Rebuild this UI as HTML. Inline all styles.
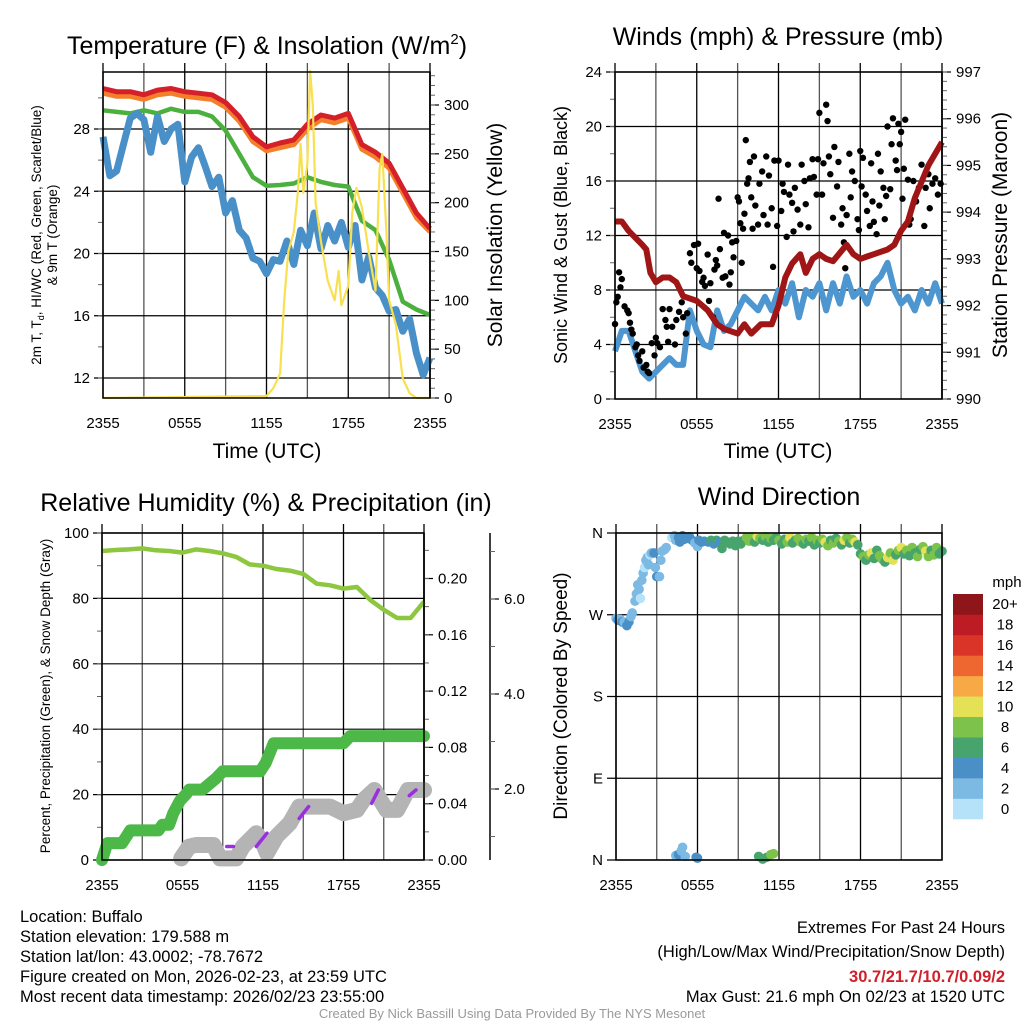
<!DOCTYPE html>
<html><head><meta charset="utf-8"><title>Buffalo Meteogram</title>
<style>
html,body{margin:0;padding:0;background:#fff;}
svg{display:block;font-family:"Liberation Sans",Arial,sans-serif;}
</style></head>
<body>
<svg id="chart" width="1024" height="1024" viewBox="0 0 1024 1024" xmlns="http://www.w3.org/2000/svg">
<rect x="0" y="0" width="1024" height="1024" fill="#fff"/>
<text x="267" y="54" font-size="25" text-anchor="middle">Temperature (F) &amp; Insolation (W/m<tspan font-size="15" dy="-10">2</tspan><tspan dy="10">)</tspan></text>
<text x="778" y="45" font-size="25" text-anchor="middle">Winds (mph) &amp; Pressure (mb)</text>
<text x="266" y="511" font-size="25" text-anchor="middle">Relative Humidity (%) &amp; Precipitation (in)</text>
<text x="779" y="505" font-size="25" text-anchor="middle">Wind Direction</text>

<text transform="translate(41,235) rotate(-90)" font-size="13.5" text-anchor="middle">2m T, T<tspan font-size="9" dy="3">d</tspan><tspan dy="-3">, HI/WC (Red, Green, Scarlet/Blue)</tspan></text>
<text transform="translate(57,235) rotate(-90)" font-size="13.5" text-anchor="middle">&amp; 9m T (Orange)</text>
<text transform="translate(502,235) rotate(-90)" font-size="21" text-anchor="middle">Solar Insolation (Yellow)</text>
<text transform="translate(567,235) rotate(-90)" font-size="18" text-anchor="middle">Sonic Wind &amp; Gust (Blue, Black)</text>
<text transform="translate(1007,235) rotate(-90)" font-size="21" text-anchor="middle">Station Pressure (Maroon)</text>
<text transform="translate(50,696) rotate(-90)" font-size="13.5" text-anchor="middle">Percent, Precipitation (Green), &amp; Snow Depth (Gray)</text>
<text transform="translate(567,696) rotate(-90)" font-size="19" text-anchor="middle">Direction (Colored By Speed)</text>
<text x="267" y="458" font-size="21" text-anchor="middle">Time (UTC)</text>
<text x="778" y="458" font-size="21" text-anchor="middle">Time (UTC)</text>

<g id="layer"></g>

<g font-size="16.5">
<text x="20" y="922">Location: Buffalo</text>
<text x="20" y="942">Station elevation: 179.588 m</text>
<text x="20" y="962">Station lat/lon: 43.0002; -78.7672</text>
<text x="20" y="982">Figure created on Mon, 2026-02-23, at 23:59 UTC</text>
<text x="20" y="1002">Most recent data timestamp: 2026/02/23 23:55:00</text>
</g>
<g font-size="16.5" text-anchor="end">
<text x="1005" y="933">Extremes For Past 24 Hours</text>
<text x="1005" y="957">(High/Low/Max Wind/Precipitation/Snow Depth)</text>
<text x="1005" y="982" fill="#d0202a" font-weight="bold">30.7/21.7/10.7/0.09/2</text>
<text x="1005" y="1002">Max Gust: 21.6 mph On 02/23 at 1520 UTC</text>
</g>
<text x="512" y="1018" font-size="13" fill="#9a9a9a" text-anchor="middle">Created By Nick Bassill Using Data Provided By The NYS Mesonet</text>
</svg>
<script>
// ---------- data ----------
var hourly = [0,1,2,3,4,5,6,7,8,9,10,11,12,13,14,15,16,17,18,19,20,21,22,23,24];
var tempRed = [30.6,30.4,30.4,30.2,30.5,30.6,30.4,30.3,30.2,29.7,28.8,27.5,26.85,27.1,27.3,28.3,28.9,28.7,29.0,27.0,26.5,25.8,24.2,22.6,21.6];
var temp9mOrange = [30.3,30.1,30.1,29.9,30.2,30.3,30.1,30.0,29.9,29.4,28.5,27.2,26.6,26.8,27.0,28.0,28.6,28.4,28.7,26.7,26.2,25.5,23.9,22.3,21.4];
var hiwcGreen = [29.2,29.1,29.0,29.2,29.0,29.3,29.1,29.1,28.8,27.9,26.4,24.9,24.35,24.4,24.5,24.9,24.6,24.4,24.3,22.1,21.5,19.6,16.9,16.4,16.05];
var halfHours = [0,0.5,1,1.5,2,2.5,3,3.5,4,4.5,5,5.5,6,6.5,7,7.5,8,8.5,9,9.5,10,10.5,11,11.5,12,12.5,13,13.5,14,14.5,15,15.5,16,16.5,17,17.5,18,18.5,19,19.5,20,20.5,21,21.5,22,22.5,23,23.5,24];
var dewBlue = [27.5,25.0,25.3,27,28.7,29,28.6,26.5,28.8,27.2,28,28.3,24.6,26.2,26.8,25.6,24.3,24.9,22.6,23.4,21.5,21,19.7,19.5,18.7,19.6,19.5,20.8,19.3,21.5,20.5,22.6,20.3,21.8,20.8,22.0,20.4,21.8,18.3,19.8,17.8,17.3,16.3,16.4,15.0,15.8,13.6,12.2,13.3];
var solarTimes = [0,12,12.5,13,13.3,13.6,14,14.3,14.5,14.7,15,15.2,15.4,15.6,16,16.5,17,17.3,17.5,18,18.3,18.6,19,19.5,20,20.3,20.5,20.8,21,21.5,22,22.5,23,24];
var solarValues = [0,2,10,25,100,150,170,210,260,210,240,335,300,200,160,120,100,130,95,115,190,215,195,150,110,235,250,170,100,75,20,5,0,0];
var windBlue = [3.5,5,5,3.5,2,1.5,2,2.5,3,2.5,2.5,6.5,5,4,3.8,6.5,5,5.5,6.5,7.5,7,6.5,7.5,6.5,8,7,8.5,6,8,7.5,8.5,6.5,8.5,7,9,7.5,8,7,8.5,9,10,8,7,7.5,6.5,8,7,8.5,7];
var pressTimes = [0,0.5,1,2,2.3,2.6,3,3.5,4,4.5,5,6,6.8,7.5,8,9,9.5,10,10.7,11.5,12,12.5,13,13.6,14,14.5,15,15.5,16,17,17.5,18,18.5,19,20,20.5,21,21.5,22,23,24];
var pressValues = [993.8,993.8,993.6,993.3,993.2,992.7,992.5,992.6,992.6,992.5,992.2,992.1,991.9,991.6,991.5,991.4,991.6,991.4,991.6,991.6,992.0,992.6,992.9,993.1,992.7,993.0,993.1,993.0,992.95,993.3,993.1,993.0,993.05,993.1,993.2,993.3,993.6,993.8,994.3,995.0,995.5];
var gustTimes = [0.0,0.1,0.2,0.3,0.4,0.5,0.7,0.9,1.0,1.1,1.2,1.3,1.5,1.6,1.7,1.8,2.0,2.1,2.3,2.4,2.5,2.7,2.9,3.0,3.1,3.3,3.5,3.7,3.8,3.9,4.0,4.2,4.4,4.5,4.7,4.9,5.0,5.2,5.3,5.5,5.6,5.8,6.0,6.1,6.2,6.4,6.5,6.6,6.8,6.9,7.0,7.2,7.3,7.4,7.5,7.6,7.7,7.9,8.0,8.1,8.3,8.4,8.5,8.6,8.7,8.9,9.0,9.1,9.2,9.3,9.4,9.5,9.6,9.7,9.8,9.9,10.0,10.1,10.2,10.3,10.5,10.6,10.8,10.9,11.1,11.2,11.3,11.5,11.6,11.7,11.9,12.0,12.2,12.3,12.4,12.6,12.7,12.8,13.0,13.1,13.2,13.4,13.6,13.7,13.9,14.0,14.2,14.3,14.5,14.6,14.8,14.9,15.0,15.2,15.3,15.5,15.6,15.7,15.8,16.0,16.1,16.3,16.4,16.6,16.7,16.8,16.9,17.0,17.2,17.3,17.4,17.6,17.8,17.9,18.0,18.1,18.2,18.4,18.5,18.7,18.8,18.9,19.0,19.2,19.3,19.4,19.5,19.7,19.8,19.9,20.0,20.2,20.3,20.4,20.6,20.7,20.8,20.9,21.0,21.1,21.2,21.3,21.5,21.6,21.7,21.9,22.1,22.3,22.5,22.7,22.8,23.0,23.1,23.3,23.5,23.7,23.9];
var gustValues = [5.5,7.1,7.5,9.3,8.2,8.8,6.8,6.5,6.3,5.6,5.1,4.8,3.8,4.0,3.2,2.8,3.5,2.3,2.5,2.0,1.9,4.1,3.2,4.5,4.1,3.8,6.6,5.8,5.3,4.2,6.6,5.3,4.0,5.8,6.4,7.1,6.0,4.8,6.3,10.7,10.0,11.3,9.6,11.4,9.4,8.6,8.9,8.3,10.6,7.2,8.5,6.0,9.5,10.2,9.8,14.7,11.0,8.9,12.2,9.0,12.0,8.4,9.3,11.5,10.4,11.6,14.8,14.5,12.9,10.0,12.5,13.6,19.0,15.8,16.2,17.4,14.8,12.5,17.8,14.2,12.8,15.8,16.7,13.5,17.8,12.8,16.4,14.0,9.7,17.5,12.7,17.5,13.8,15.8,15.2,11.9,17.2,15.0,14.4,12.3,15.5,13.9,12.8,17.2,16.0,14.3,12.6,16.2,17.6,16.3,15.0,17.6,21.0,15.0,17.3,21.6,20.4,17.8,16.5,13.3,18.5,15.6,17.4,12.8,14.0,11.5,9.6,13.5,18.0,14.8,16.7,16.0,13.2,12.4,18.2,15.6,17.7,15.0,13.8,12.7,17.3,14.5,13.0,12.1,18.0,14.2,16.7,15.5,13.2,14.9,20.0,15.4,18.7,20.6,17.5,16.8,20.2,18.7,19.6,14.7,16.9,20.5,16.1,12.8,13.2,16.0,14.5,15.5,17.2,12.7,15.5,16.5,14.0,15.8,16.2,15.0,15.8];
var rhValues = [94.5,94.8,95,95.3,94.7,94.5,94,95,94.5,93.8,92.7,90.4,90,89,88.5,87.5,84.5,84,83,83.5,79.5,76.5,74,74,79];
var precipTimes = [0,0.4,1.5,1.9,2.1,4.2,4.5,5.0,5.3,5.8,6.3,6.5,7.5,8.0,8.5,9.0,11.8,12.2,12.5,12.8,18.0,18.5,24];
var precipValues = [0,0.012,0.012,0.018,0.021,0.021,0.025,0.025,0.033,0.042,0.047,0.050,0.050,0.054,0.058,0.063,0.063,0.069,0.076,0.083,0.083,0.088,0.088];
var snowTimes = [5.9,6.5,7,8.3,8.8,10,10.5,11.5,12,12.3,13,14,14.7,16,17,18,19,19.5,20.3,21.2,22,22.8,24];
var snowValues = [0.54,0.79,0.82,0.82,0.54,0.54,0.79,1.07,0.86,0.65,1.0,1.28,1.63,1.63,1.63,1.49,1.56,1.77,1.98,1.56,1.56,1.98,1.98];
var purpleSegStart = [9.3,11.5,14.7,20.1,22.9];
var purpleSegEnd = [9.8,12.3,15.4,20.6,23.4];
var purpleValStart = [0.79,0.79,1.38,1.7,1.86];
var purpleValEnd = [0.79,1.07,1.63,1.98,1.98];
var dirTimes = [0.0,0.15,0.3,0.45,0.6,0.8,0.95,1.1,1.2,1.4,1.5,1.6,1.7,1.8,1.9,2.0,2.1,2.2,2.3,2.4,2.5,2.6,2.8,2.9,3.0,3.2,3.3,3.4,3.6,3.7,4.1,4.3,4.4,4.6,4.7,4.9,5.0,5.2,5.4,5.6,5.8,6.0,6.1,6.3,6.5,6.8,7.0,7.2,7.4,7.6,7.8,8.0,8.2,8.4,8.6,8.8,9.0,9.2,9.4,9.6,9.8,10.0,10.2,10.4,10.6,10.8,11.0,11.2,11.4,11.6,11.8,12.0,12.2,12.4,12.6,12.8,13.0,13.2,13.4,13.6,13.8,14.0,14.2,14.4,14.6,14.8,15.0,15.2,15.4,15.6,15.8,16.0,16.2,16.4,16.6,16.8,17.0,17.2,17.4,17.6,17.8,18.0,18.2,18.4,18.6,18.8,19.0,19.2,19.4,19.6,19.8,20.0,20.2,20.4,20.6,20.8,21.0,21.2,21.4,21.6,21.8,22.0,22.2,22.4,22.6,22.8,23.0,23.2,23.4,23.6,23.8,24.0,4.4,4.6,4.8,4.9,5.1,5.9,6.0,10.5,10.8,11.1,11.4,11.6];
var dirValues = [266,264,265,262,262,258,262,268,272,285,293,303,298,288,308,316,322,330,333,325,336,338,338,322,312,312,330,340,342,344,355,357,352,355,350,357,353,354,356,352,349,345,352,350,351,350,352,348,352,350,343,352,350,348,351,346,351,348,352,355,351,356,350,356,354,352,356,350,354,352,355,352,348,353,350,355,349,352,354,350,348,353,351,355,347,352,349,353,350,346,352,349,354,351,347,352,355,349,353,350,347,337,334,330,336,338,332,341,335,331,328,333,338,330,336,341,344,337,341,335,344,338,334,342,345,340,334,341,336,344,337,340,5,6,10,14,4,3,2,4,1,3,6,7];
var dirSpeeds = [3.5,4,3.8,4.2,3.9,4.5,4.0,2.8,3,2.6,2.8,2.5,3,1.8,2.6,2.2,1.5,2.5,2,3,1.2,2.4,4.2,2.8,4.3,3,2.6,2.4,2.5,2.8,1.5,2.6,2.6,4.5,4.8,5.5,4.4,4.6,4.5,4.3,3.5,2.5,4.2,5.0,5.5,5.8,6.0,5.4,6.2,4.5,6,7.0,6.5,6.8,6.8,6.4,7.2,6.8,7.5,8.2,9.0,8.5,6.8,10.2,8.5,7.2,8.3,6.0,8.8,6.8,7.5,8.4,7.2,6.4,8.5,10.5,7.2,6.8,8.2,9.0,6.2,8.8,7.0,8.0,6.5,9.8,6.8,8.6,10.5,8.0,7.5,9.2,6.6,8.4,7.0,10.5,8.0,6.5,8.6,10.2,7.8,7.5,8.4,6.8,8.0,10.5,7.2,6.2,8.2,9.6,7.0,10.2,8.8,10.4,6.8,8.5,10.2,6.5,8.5,6.2,9.2,7.0,8.3,6.5,8.6,10.2,8.0,7.0,8.5,9.0,7.2,6.5,2.5,4.2,2.2,2.5,2.2,4.2,4.4,6.2,6.0,6.8,8.0,8.2];
var speedColors = ["#b5e2f8","#7cb9e3","#4a8fc6","#47a46c","#7dc24a","#e4e157","#f6a945","#ee6630","#da3428","#bd1c24","#8e1519"];
var speedLabels = ["0","2","4","6","8","10","12","14","16","18","20+"];
var timeTickHours = [0,6,12,18,24];
var timeTickLabels = ["2355","0555","1155","1755","2355"];
var tempTicks = [12,16,20,24,28];
var solarTicks = [0,50,100,150,200,250,300];
var windTicks = [0,4,8,12,16,20,24];
var pressTicks = [990,991,992,993,994,995,996,997];
var rhTicks = [0,20,40,60,80,100];
var precipTicks = [0,0.04,0.08,0.12,0.16,0.20];
var snowTicks = [2,4,6];
var dirTicks = [0,90,180,270,360];
var dirTickLabels = ["N","E","S","W","N"];

// ---------- helpers ----------
var NS = "http://www.w3.org/2000/svg";
var layer = document.getElementById('layer');
function mk(tag, attrs, parent) {
  var el = document.createElementNS(NS, tag);
  for (var k in attrs) el.setAttribute(k, attrs[k]);
  (parent || layer).appendChild(el);
  return el;
}
function pathFrom(xs, ys, fx, fy) {
  var d = "";
  for (var i = 0; i < xs.length; i++) d += (i ? "L" : "M") + fx(xs[i]).toFixed(1) + "," + fy(ys[i]).toFixed(1);
  return d;
}
function linear(d0, d1, r0, r1) { return function (v) { return r0 + (v - d0) / (d1 - d0) * (r1 - r0); }; }

var P = {
  t: {x0:103, x1:430, y0:72, y1:398},
  w: {x0:615, x1:942, y0:72, y1:399},
  r: {x0:102, x1:424, y0:533, y1:860},
  d: {x0:616, x1:942, y0:533, y1:860}
};
var TF = 15;
function frame(p, name) {
  var g = mk('g', {});
  
  
  for (var h = 0; h <= 24; h += 3) {
    var x = p.x0 + h / 24 * (p.x1 - p.x0);
    var ln = mk('line', {x1:x, x2:x, y1:p.y0 - 9, y2:p.y1, stroke: (h % 6 === 0) ? '#000' : '#555', 'stroke-width': 1.3}, g);
    
    
  }
  for (var i = 0; i < timeTickHours.length; i++) {
    var t = mk('text', {x: p.x0 + timeTickHours[i] / 24 * (p.x1 - p.x0), y: p.y1 + 30, 'font-size': TF, 'text-anchor': 'middle'}, g);
    t.textContent = timeTickLabels[i];
    
    
  }
  return g;
}
function hgrid(p, ticks, fy, name, labels, minorStep, lo, hi) {
  for (var i = 0; i < ticks.length; i++) {
    var y = fy(ticks[i]);
    var ln = mk('line', {x1:p.x0 - 9, x2:p.x1, y1:y, y2:y, stroke:'#000', 'stroke-width':1.2});
    
    
    var t = mk('text', {x:p.x0 - 13, y:y + 5, 'font-size':TF, 'text-anchor':'end'});
    t.textContent = labels ? labels[i] : ticks[i];
    
    
  }
  if (minorStep) for (var v = lo; v <= hi + 1e-9; v += minorStep) {
    var yy = fy(v);
    var m = mk('line', {x1:p.x0 - 5, x2:p.x0, y1:yy, y2:yy, stroke:'#666', 'stroke-width':1});
    
    
  }
}
function rightAxis(x, y0, y1, ticks, fy, name, fmt, minorStep, lo, hi) {
  var ax = mk('line', {x1:x, x2:x, y1:y0, y2:y1, stroke:'#000', 'stroke-width':1.5});
  
  
  for (var i = 0; i < ticks.length; i++) {
    var y = fy(ticks[i]);
    var tk = mk('line', {x1:x, x2:x + 9, y1:y, y2:y, stroke:'#000', 'stroke-width':1.2});
    
    
    var t = mk('text', {x:x + 14, y:y + 5, 'font-size':TF});
    t.textContent = fmt(ticks[i]);
    
    
  }
  if (minorStep) for (var v = lo; v <= hi + 1e-9; v += minorStep) {
    var yy = fy(v);
    if (yy < y0 - 0.5 || yy > y1 + 0.5) continue;
    var m = mk('line', {x1:x, x2:x + 5, y1:yy, y2:yy, stroke:'#666', 'stroke-width':1});
    
    
  }
}
function box(p, name) {
  var r = mk('rect', {x:p.x0, y:p.y0, width:p.x1 - p.x0, height:p.y1 - p.y0, fill:'none', stroke:'#000', 'stroke-width':1.5});
  
  
}

// ---------- Panel 1 ----------
var X1 = linear(0, 24, P.t.x0, P.t.x1);
var YT = linear(28, 12, 129, 378);
var YS = linear(0, 300, 398, 105);
frame(P.t, 'temp');
hgrid(P.t, tempTicks, YT, 'temp', null, 2, 12, 30);
rightAxis(P.t.x1, P.t.y0, P.t.y1, solarTicks, YS, 'solar', function (v) { return v; }, 10, 0, 330);
var s;
s = mk('path', {d: pathFrom(hourly, temp9mOrange, X1, YT), fill:'none', stroke:'#f47f2b', 'stroke-width':5, 'stroke-linejoin':'round'});


s = mk('path', {d: pathFrom(hourly, tempRed, X1, YT), fill:'none', stroke:'#d5202a', 'stroke-width':5, 'stroke-linejoin':'round'});


s = mk('path', {d: pathFrom(hourly, hiwcGreen, X1, YT), fill:'none', stroke:'#4cb03f', 'stroke-width':4.5, 'stroke-linejoin':'round'});


s = mk('path', {d: pathFrom(halfHours, dewBlue, X1, YT), fill:'none', stroke:'#4a90c8', 'stroke-width':7, 'stroke-linejoin':'round'});


s = mk('path', {d: pathFrom(solarTimes, solarValues, X1, YS), fill:'none', stroke:'#f8e050', 'stroke-width':2.2, 'stroke-linejoin':'round'});


box(P.t, 'temp');

// ---------- Panel 2 ----------
var X2 = linear(0, 24, P.w.x0, P.w.x1);
var YW = linear(0, 24, 399, 72);
var YP = linear(990, 997, 399, 72);
frame(P.w, 'wind');
hgrid(P.w, windTicks, YW, 'wind', null, 2, 0, 24);
rightAxis(P.w.x1, P.w.y0, P.w.y1, pressTicks, YP, 'pressure', function (v) { return v; }, 0.2, 990, 997);
s = mk('path', {d: pathFrom(halfHours, windBlue, X2, YW), fill:'none', stroke:'#4e96d0', 'stroke-width':6, 'stroke-linejoin':'round'});


var gg = mk('g', {});


for (var i = 0; i < gustTimes.length; i++) {
  var c = mk('circle', {cx: X2(gustTimes[i]), cy: YW(gustValues[i]), r: 3.2, fill:'#000'}, gg);
  
  
}
s = mk('path', {d: pathFrom(pressTimes, pressValues, X2, YP), fill:'none', stroke:'#a01616', 'stroke-width':6, 'stroke-linejoin':'round'});


box(P.w, 'wind');

// ---------- Panel 3 ----------
var X3 = linear(0, 24, P.r.x0, P.r.x1);
var YR = linear(0, 100, 860, 533);
var YPR = linear(0, 0.04, 860, 803.7);
var YSD = linear(0, 2, 884, 789);
frame(P.r, 'rh');
hgrid(P.r, rhTicks, YR, 'rh', null, 10, 0, 100);
rightAxis(P.r.x1, P.r.y0, P.r.y1, precipTicks, YPR, 'precip', function (v) { return v.toFixed(2); }, 0.02, 0, 0.23);
rightAxis(490, P.r.y0, P.r.y1, snowTicks, YSD, 'snow-depth', function (v) { return v.toFixed(1); }, 1, 1, 7);
s = mk('path', {d: pathFrom(snowTimes, snowValues, X3, YSD), fill:'none', stroke:'#b4b4b4', 'stroke-width':16, 'stroke-linejoin':'round', 'stroke-linecap':'round'});


for (var i = 0; i < purpleSegStart.length; i++) {
  var pl = mk('line', {x1: X3(purpleSegStart[i]), y1: YSD(purpleValStart[i]), x2: X3(purpleSegEnd[i]), y2: YSD(purpleValEnd[i]), stroke:'#9a2ee0', 'stroke-width':3.5, 'stroke-linecap':'round'});
  
  
}
s = mk('path', {d: pathFrom(precipTimes, precipValues, X3, YPR), fill:'none', stroke:'#4cb848', 'stroke-width':12, 'stroke-linejoin':'round', 'stroke-linecap':'round'});


s = mk('path', {d: pathFrom(hourly, rhValues, X3, YR), fill:'none', stroke:'#8dc63f', 'stroke-width':4.5, 'stroke-linejoin':'round'});


box(P.r, 'rh');

// ---------- Panel 4 ----------
var X4 = linear(0, 24, P.d.x0, P.d.x1);
var YD = linear(0, 360, 860, 533);
frame(P.d, 'direction');
hgrid(P.d, dirTicks, YD, 'direction', dirTickLabels, 0, 0, 0);
var dg = mk('g', {});


for (var i = 0; i < dirTimes.length; i++) {
  var bin = Math.min(10, Math.floor(dirSpeeds[i] / 2));
  var c = mk('circle', {cx: X4(dirTimes[i]), cy: YD(dirValues[i]), r: 4.8, fill: speedColors[bin]}, dg);
  
  
}
box(P.d, 'direction');
var cb = mk('g', {});


var cbTop = 594, cbH = 225 / 11;
for (var i = 0; i < speedColors.length; i++) {
  var y = cbTop + (10 - i) * cbH;
  var r = mk('rect', {x:953, y:y, width:30, height:cbH + 0.3, fill: speedColors[i]}, cb);
  
  
  var t = mk('text', {x:1005, y:y + cbH / 2 + 5, 'font-size':15, 'text-anchor':'middle'}, cb);
  t.textContent = speedLabels[i];
  
  
}
var mt = mk('text', {x:1007, y:587, 'font-size':15, 'text-anchor':'middle'}, cb);
mt.textContent = 'mph';


</script>
</body></html>
